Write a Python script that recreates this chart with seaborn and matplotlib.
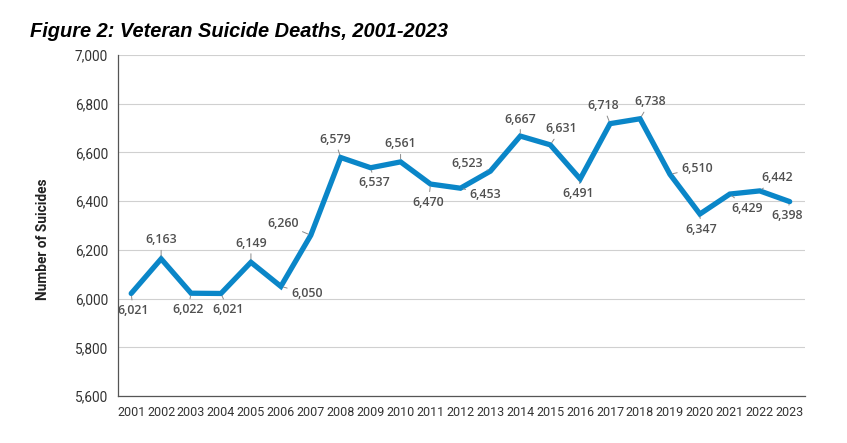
import matplotlib.pyplot as plt
import matplotlib.ticker as mticker
import numpy as np
import pandas as pd
import seaborn as sns

# data
years = list(range(2001, 2024))
suicides = [6021, 6163, 6022, 6021, 6149, 6050, 6260, 6579, 6537, 6561, 6470, 6453,
            6523, 6667, 6631, 6491, 6718, 6738, 6510, 6347, 6429, 6442, 6398]

# label offsets in pixels (dx, dy), dy positive = down
label_offsets = [(2, 17), (0, -19), (-3, 16), (7, 16), (0, -19), (26, 7), (-28, -12),
                 (-6, -18), (4, 15), (0, -18), (-2, 18), (25, 6), (-23, -8), (0, -17),
                 (11, -16), (-2, 15), (-7, -18), (10, -17), (27, -6), (1, 15),
                 (17, 14), (17, -13), (-3, 14)]

df = pd.DataFrame({'year': years, 'suicides': suicides})

sns.set_style('white')
plt.rcParams['font.family'] = ['Open Sans', 'DejaVu Sans']

fig = plt.figure(figsize=(8.47, 4.43), dpi=100)
ax = fig.add_axes([0.139, 0.106, 0.811, 0.770])

sns.lineplot(data=df, x='year', y='suicides', ax=ax, color='#0a86c8', linewidth=3.8,
             solid_joinstyle='miter')

for x, y, (dx, dy) in zip(years, suicides, label_offsets):
    ax.annotate(f"{y:,}", xy=(x, y), xytext=(dx, -dy), textcoords='offset pixels',
                ha='center', va='center', fontsize=8.9, color='#505050',
                fontweight='semibold',
                arrowprops=dict(arrowstyle='-', color='#8a8a8a', lw=0.7,
                                shrinkA=0.5, shrinkB=2))

ax.set_ylim(5600, 7000)
ax.set_xlim(2000.55, 2023.5)
ax.set_yticks(np.arange(5600, 7001, 200))
ax.set_xticks(years)
ax.yaxis.set_major_formatter(mticker.FuncFormatter(lambda v, p: f"{int(v):,}"))
ax.grid(axis='y', color='#d0d0d0', linewidth=0.8)
ax.set_axisbelow(True)

for s in ['top', 'right']:
    ax.spines[s].set_visible(False)
for s in ['left', 'bottom']:
    ax.spines[s].set_color('#555555')
    ax.spines[s].set_linewidth(0.9)

ax.tick_params(axis='both', which='major', length=4, color='#888888', width=0.7,
               labelcolor='#333333')
ax.tick_params(axis='y', direction='inout', length=7)
for lab in ax.get_xticklabels():
    lab.set_family(['Roboto', 'DejaVu Sans'])
    lab.set_fontsize(9)
for lab in ax.get_yticklabels():
    lab.set_family(['Roboto', 'DejaVu Sans'])
    lab.set_fontsize(9.8)

ax.set_xlabel('')
ax.set_ylabel('Number of Suicides', fontsize=9.8, fontweight='bold', color='#222222',
              family=['Roboto', 'DejaVu Sans'])
ax.yaxis.set_label_coords(-0.098, 0.46)

fig.text(0.035, 0.93, 'Figure 2: Veteran Suicide Deaths, 2001-2023', fontsize=14.4,
         fontweight='bold', fontstyle='italic', family=['Liberation Sans', 'DejaVu Sans'],
         ha='left', va='center', color='black')

fig.savefig('out.png', dpi=100)
